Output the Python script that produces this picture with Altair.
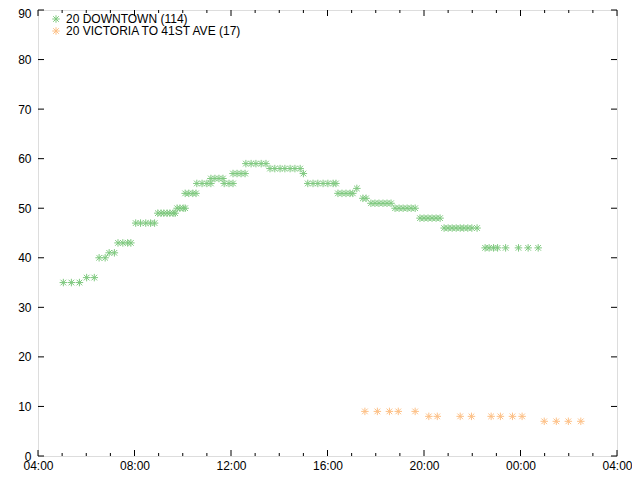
import altair as alt
import pandas as pd

# ---- data ----
SERIES = ["20 DOWNTOWN (114)", "20 VICTORIA TO 41ST AVE (17)"]
COLORS = ["#7fc97f", "#fdc086"]

DOWNTOWN_TIMES = [
    "05:03", "05:23", "05:43",
    "06:01", "06:20",
    "06:32", "06:47",
    "06:57", "07:10",
    "07:19", "07:31", "07:43", "07:51",
    "08:03", "08:15", "08:28", "08:40", "08:50",
    "08:58", "09:06", "09:13", "09:21", "09:28", "09:36", "09:41",
    "09:46", "09:53", "10:01", "10:06",
    "10:06", "10:15", "10:25", "10:33",
    "10:35", "10:48", "11:00", "11:10",
    "11:10", "11:20", "11:30", "11:40",
    "11:43", "11:55", "12:05",
    "12:05", "12:15", "12:25", "12:35",
    "12:37", "12:50", "13:02", "13:15", "13:27",
    "13:37", "13:49", "14:02", "14:14", "14:27", "14:39", "14:52",
    "15:00",
    "15:11", "15:24", "15:36", "15:49", "16:01", "16:14", "16:21",
    "16:26", "16:36", "16:46", "16:56", "17:03",
    "17:13",
    "17:28", "17:36",
    "17:48", "17:58", "18:08", "18:18", "18:28", "18:38",
    "18:48", "18:58", "19:08", "19:18", "19:28", "19:38",
    "19:50", "20:00", "20:10", "20:20", "20:30", "20:40",
    "20:50", "21:00", "21:10", "21:20", "21:30", "21:39", "21:49", "21:59", "22:12",
    "22:32", "22:42", "22:53", "23:03", "23:23", "23:55", "00:19", "00:44",
]
DOWNTOWN_VALUES = [
    35, 35, 35,
    36, 36,
    40, 40,
    41, 41,
    43, 43, 43, 43,
    47, 47, 47, 47, 47,
    49, 49, 49, 49, 49, 49, 49,
    50, 50, 50, 50,
    53, 53, 53, 53,
    55, 55, 55, 55,
    56, 56, 56, 56,
    55, 55, 55,
    57, 57, 57, 57,
    59, 59, 59, 59, 59,
    58, 58, 58, 58, 58, 58, 58,
    57,
    55, 55, 55, 55, 55, 55, 55,
    53, 53, 53, 53, 53,
    54,
    52, 52,
    51, 51, 51, 51, 51, 51,
    50, 50, 50, 50, 50, 50,
    48, 48, 48, 48, 48, 48,
    46, 46, 46, 46, 46, 46, 46, 46, 46,
    42, 42, 42, 42, 42, 42, 42, 42,
]

VICTORIA_TIMES = [
    "17:33", "18:04", "18:34", "18:56", "19:38",
    "20:12", "20:33", "21:30", "21:58", "22:47", "23:10", "23:40", "00:04",
    "00:59", "01:29", "01:59", "02:30",
]
VICTORIA_VALUES = [9, 9, 9, 9, 9, 8, 8, 8, 8, 8, 8, 8, 8, 7, 7, 7, 7]

X_TICK_LABELS = ["04:00", "08:00", "12:00", "16:00", "20:00", "00:00", "04:00"]
Y_TICKS = [0, 10, 20, 30, 40, 50, 60, 70, 80, 90]


def to_iso(hhmm):
    h, m = map(int, hhmm.split(":"))
    day = 2 if h < 4 else 1
    return f"2024-01-{day:02d}T{h:02d}:{m:02d}:00"


rows = []
for t, v in zip(DOWNTOWN_TIMES, DOWNTOWN_VALUES):
    rows.append({"t": to_iso(t), "v": v, "series": SERIES[0]})
for t, v in zip(VICTORIA_TIMES, VICTORIA_VALUES):
    rows.append({"t": to_iso(t), "v": v, "series": SERIES[1]})
df = pd.DataFrame(rows)

W, H = 579, 446
STAR = "M-1,0L1,0M0,-1L0,1M-0.75,-0.75L0.75,0.75M-0.75,0.75L0.75,-0.75"

x_start = alt.DateTime(year=2024, month=1, date=1, hours=4)
x_end = alt.DateTime(year=2024, month=1, date=2, hours=4)
x_scale = alt.Scale(domain=[x_start, x_end])
y_scale = alt.Scale(domain=[0, 90])

major_vals = []
for i, lab in enumerate(X_TICK_LABELS):
    h = 4 + 4 * i
    d = 1 + h // 24
    major_vals.append(alt.DateTime(year=2024, month=1, date=d, hours=h % 24))

hour_rows = []
for k in range(25):
    h = 4 + k
    d = 1 + h // 24
    hour_rows.append({"t": f"2024-01-{d:02d}T{h % 24:02d}:00:00", "major": k % 4 == 0})
ticks_df = pd.DataFrame(hour_rows)
major_df = ticks_df[ticks_df.major]
minor_df = ticks_df[~ticks_df.major]
y_df = pd.DataFrame({"v": Y_TICKS})

points = alt.Chart(df).mark_point(
    shape=STAR, filled=False, size=56, strokeWidth=1, opacity=1
).encode(
    x=alt.X("t:T", scale=x_scale, title=None,
            axis=alt.Axis(values=major_vals, format="%H:%M", ticks=False,
                          domain=False, grid=False, labelFontSize=12,
                          labelColor="black", labelPadding=4,
                          labelFont="Liberation Sans", labelFlush=False)),
    y=alt.Y("v:Q", scale=y_scale, title=None,
            axis=alt.Axis(values=Y_TICKS, ticks=False, domain=False, grid=False,
                          labelFontSize=12, labelColor="black", labelPadding=7,
                          labelFont="Liberation Sans",
                          labelOffset=alt.condition("datum.value == 90",
                                                    alt.value(3), alt.value(0)))),
    color=alt.Color("series:N",
                    scale=alt.Scale(domain=SERIES, range=COLORS),
                    legend=alt.Legend(title=None, orient="none", legendX=12, legendY=3,
                                      symbolType=STAR, symbolSize=56,
                                      symbolStrokeWidth=1, labelFontSize=12,
                                      labelFont="Liberation Sans", labelColor="black",
                                      labelOffset=4, rowPadding=0, padding=0,
                                      labelLimit=0,
                                      symbolFillColor="transparent")),
)

def xticks(data, length):
    bottom = alt.Chart(data).mark_rule(color="black", strokeWidth=1).encode(
        x=alt.X("t:T", scale=x_scale), y=alt.value(H), y2=alt.value(H - length))
    top = alt.Chart(data).mark_rule(color="black", strokeWidth=1).encode(
        x=alt.X("t:T", scale=x_scale), y=alt.value(0), y2=alt.value(length))
    return bottom + top

left_ticks = alt.Chart(y_df).mark_rule(color="black", strokeWidth=1).encode(
    y=alt.Y("v:Q", scale=y_scale), x=alt.value(0), x2=alt.value(6))
right_ticks = alt.Chart(y_df).mark_rule(color="black", strokeWidth=1).encode(
    y=alt.Y("v:Q", scale=y_scale), x=alt.value(W), x2=alt.value(W - 6))

chart = alt.layer(
    points, xticks(major_df, 6), xticks(minor_df, 3), left_ticks, right_ticks
).properties(
    width=W, height=H,
    autosize=alt.AutoSizeParams(type="none"),
    padding={"left": 30, "top": 2, "right": 15, "bottom": 16},
).configure_view(
    stroke="black", strokeWidth=1
).configure(
    background="white"
)

chart.save("out.html", embed_options={"renderer": "svg", "actions": False})
